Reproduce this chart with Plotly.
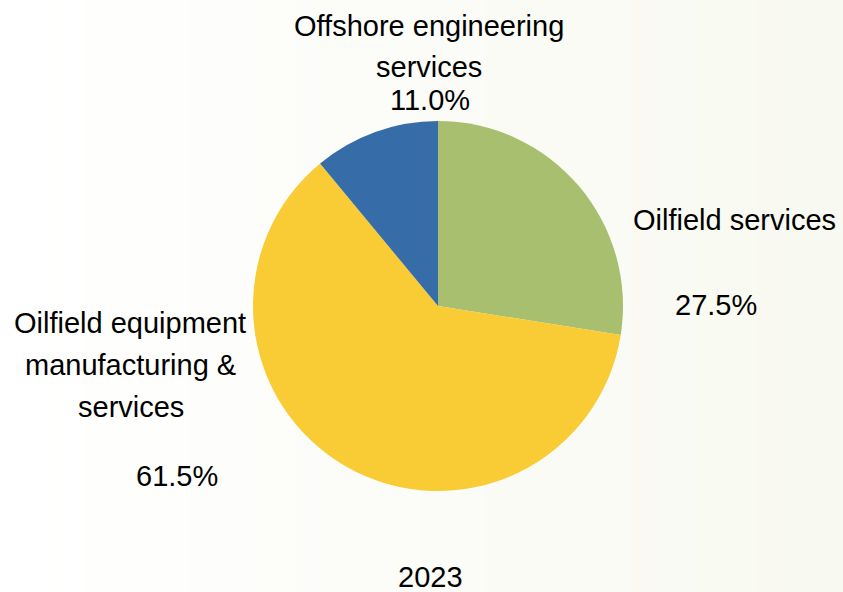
import plotly.graph_objects as go

W, H = 843, 592

# Segment shares (%), in clockwise order from 12 o'clock
segments = ["Oilfield services", "Oilfield equipment manufacturing & services", "Offshore engineering services"]
shares = [27.5, 61.5, 11.0]
colors = ["#a9bf70", "#f9cb34", "#366ca8"]
year_label = "2023"

FONT = "Liberation Sans, Arial, sans-serif"
FS = 29

# Pie geometry in pixels
cx, cy, r = 438, 306, 185

fig = go.Figure()
fig.add_trace(go.Pie(
    labels=segments,
    values=shares,
    sort=False,
    direction="clockwise",
    rotation=0,
    marker=dict(colors=colors, line=dict(width=0)),
    textinfo="none",
    hoverinfo="label+percent",
    showlegend=False,
    domain=dict(x=[(cx - r) / W, (cx + r) / W],
                y=[(H - cy - r) / H, (H - cy + r) / H]),
))


def label(text, x, baseline):
    # place a text line by its horizontal centre and baseline (pixels)
    fig.add_annotation(
        text=text, x=x / W, y=(H - baseline + FS * 0.36) / H,
        xref="paper", yref="paper", xanchor="center", yanchor="middle",
        showarrow=False, font=dict(family=FONT, size=FS, color="#000000"),
    )


pct = [f"{v:.1f}%" for v in shares]

# Offshore engineering services
label("Offshore engineering", 429, 36)
label("services", 429, 77)
label(pct[2], 430, 110)
# Oilfield services
label("Oilfield services", 734, 230)
label(pct[0], 716, 315)
# Oilfield equipment manufacturing & services
label("Oilfield equipment", 130, 333)
label("manufacturing &", 130, 375)
label("services", 131, 417)
label(pct[1], 177, 486)
# Year caption
label(year_label, 430, 587)

# Soft left-to-right background tint
shapes = []
n = 40
c0 = (255, 255, 255)
c1 = (248, 249, 240)
for i in range(n):
    t = i / (n - 1)
    col = tuple(round(a + (b - a) * t) for a, b in zip(c0, c1))
    shapes.append(dict(
        type="rect", xref="paper", yref="paper",
        x0=i / n, x1=(i + 1) / n + 0.002, y0=0, y1=1,
        fillcolor=f"rgb{col}", line=dict(width=0), layer="below",
    ))

fig.update_layout(
    width=W, height=H,
    margin=dict(l=0, r=0, t=0, b=0),
    paper_bgcolor="#ffffff",
    plot_bgcolor="rgba(0,0,0,0)",
    shapes=shapes,
    font=dict(family=FONT, size=FS),
)

fig.write_html("out.html")
